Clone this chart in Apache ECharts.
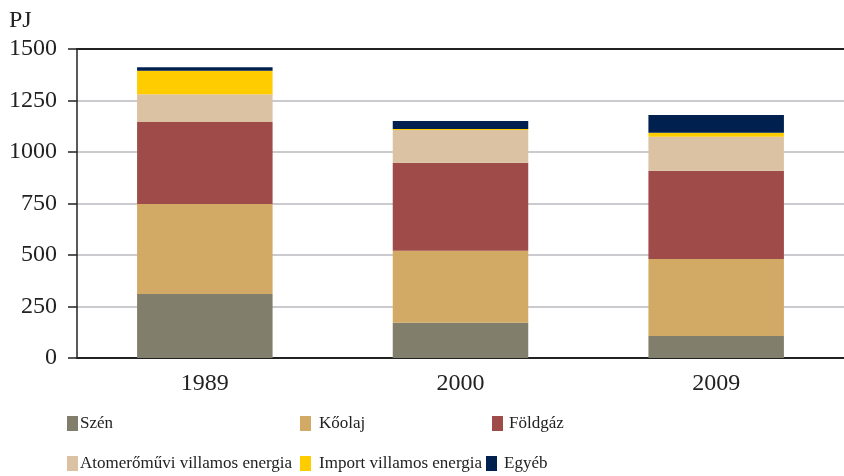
<!DOCTYPE html>
<html><head><meta charset="utf-8">
<script src="https://cdn.jsdelivr.net/npm/echarts@6/dist/echarts.min.js"></script>
<style>html,body{margin:0;padding:0;background:#fff}#c{width:844px;height:476px}</style>
</head><body><div id="c"></div>
<script>
const categories = ['1989', '2000', '2009'];
const szen = [311, 171, 107];
const koolaj = [437, 350, 374];
const foldgaz = [398, 427, 428];
const atom = [134, 159, 165];
const importV = [115, 5, 20];
const egyeb = [16, 38, 86];
const yTicks = [0, 250, 500, 750, 1000, 1250, 1500];

const names = ['Szén', 'Kőolaj', 'Földgáz', 'Atomerőművi villamos energia', 'Import villamos energia', 'Egyéb'];
const colors = ['#817F6C', '#D2AA66', '#9E4B49', '#DBC2A3', '#FFCC00', '#00204F'];
const datas = [szen, koolaj, foldgaz, atom, importV, egyeb];
const FONT = '"Liberation Serif", "DejaVu Serif", serif';

const legendPos = [
  {left: 62, top: 410, pad: -3}, {left: 295, top: 410, pad: 3}, {left: 487, top: 410, pad: 1},
  {left: 62, top: 450, pad: -3}, {left: 295, top: 450, pad: 3}, {left: 481, top: 450, pad: 2}
];

const chart = echarts.init(document.getElementById('c'), null, {renderer: 'canvas'});
chart.setOption({
  animation: false,
  textStyle: {fontFamily: FONT},
  title: {text: 'PJ', left: 4, top: 4, textStyle: {fontFamily: FONT, fontSize: 24, fontWeight: 'normal', color: '#222'}},
  legend: names.map((n, i) => ({
    data: [n], left: legendPos[i].left, top: legendPos[i].top,
    itemWidth: 11, itemHeight: 15, itemGap: 0, icon: 'rect',
    textStyle: {fontFamily: FONT, fontSize: 17, color: '#222', padding: [0, 0, 0, legendPos[i].pad]},
    selectedMode: false
  })),
  grid: {left: 77, right: 0, top: 49, bottom: 118},
  xAxis: [{
    type: 'category', data: categories,
    axisLine: {lineStyle: {color: '#222', width: 2}},
    axisTick: {show: false},
    axisLabel: {fontFamily: FONT, fontSize: 24, color: '#222', margin: 14}
  }, {
    type: 'category', data: categories, position: 'top',
    axisLine: {lineStyle: {color: '#222', width: 2}},
    axisTick: {show: false}, axisLabel: {show: false}
  }],
  yAxis: {
    type: 'value', min: 0, max: 1500, interval: 250,
    axisLine: {show: true, lineStyle: {color: '#222', width: 1.5}},
    axisTick: {show: true, length: 9, lineStyle: {color: '#222', width: 1.5}},
    axisLabel: {fontFamily: FONT, fontSize: 24, color: '#222', margin: 20,
      formatter: v => yTicks.includes(v) ? String(v) : ''},
    splitLine: {lineStyle: {color: '#cbcbcf', width: 2}}
  },
  series: names.map((n, i) => ({
    name: n, type: 'bar', stack: 'total', data: datas[i], barWidth: '53%',
    itemStyle: {color: colors[i]}
  }))
});
</script></body></html>
